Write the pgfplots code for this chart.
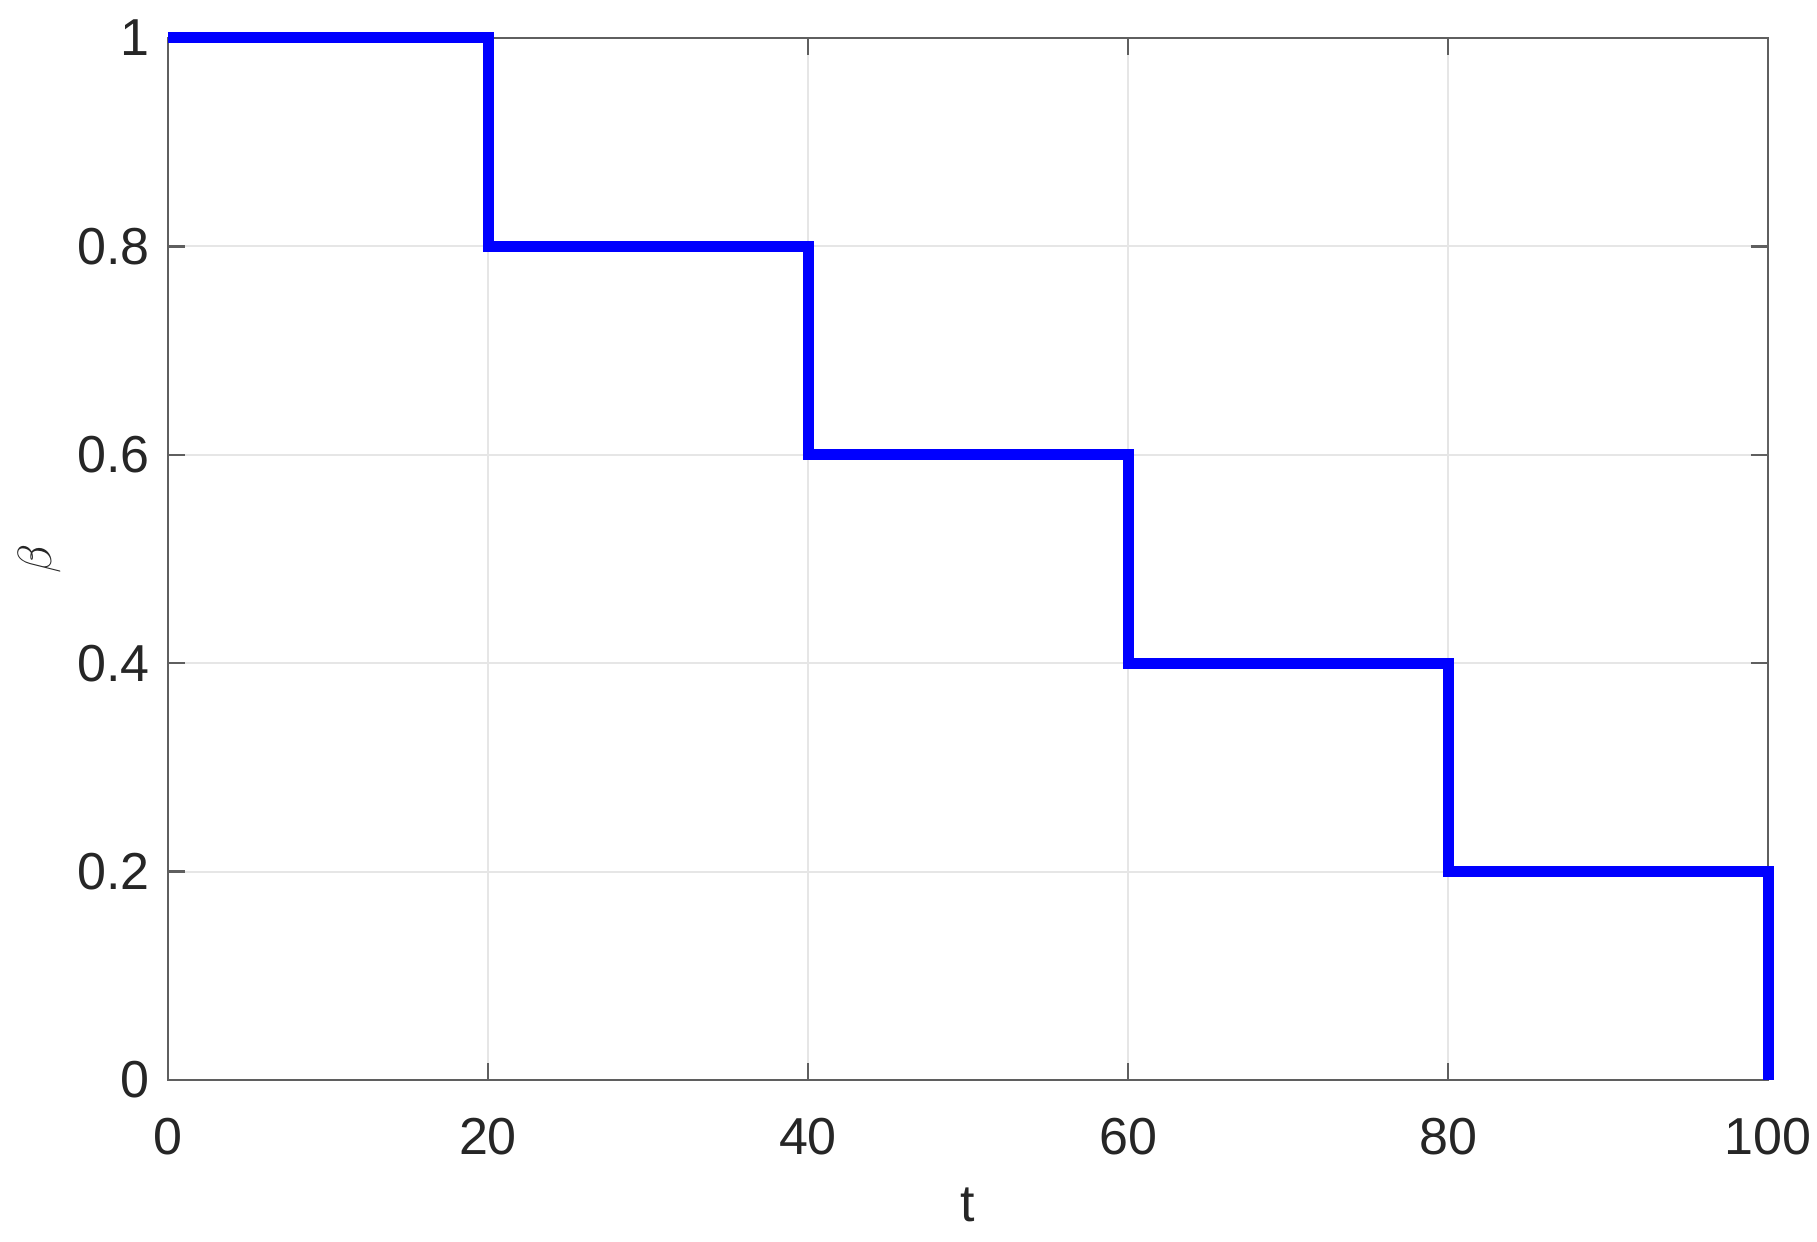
\documentclass[border=0pt]{standalone}
\usepackage{pgfplots}
\pgfplotsset{compat=1.18}
\usepackage{fontspec}
\setmainfont{Liberation Sans}
\definecolor{axgray}{RGB}{38,38,38}
\definecolor{linegray}{RGB}{95,95,95}
\definecolor{gridgray}{RGB}{230,230,230}
\begin{document}
\begin{tikzpicture}
\path[use as bounding box] (-42pt,-40.25pt) rectangle (412.25pt,270pt);
\begin{axis}[
  at={(0,0)}, anchor=south west,
  scale only axis,
  width=400pt, height=260.5pt,
  xmin=0, xmax=100, ymin=0, ymax=1,
  xtick={0,20,40,60,80,100},
  ytick={0,0.2,0.4,0.6,0.8,1},
  yticklabels={0,0.2,0.4,0.6,0.8,1},
  /pgf/number format/assume math mode=true,
  tick label style={font=\fontsize{13}{15}\selectfont, text=axgray},
  xticklabel style={yshift=-6pt},
  yticklabel style={xshift=-1pt},
  axis line style={linegray, line width=0.6pt},
  major tick length=4.2pt,
  tick style={linegray, line width=0.6pt},
  tick align=inside,
  grid=major,
  major grid style={gridgray, line width=0.5pt},
  xlabel={t},
  ylabel={$\beta$},
  every axis x label/.style={at={(axis description cs:0.5,0)}, anchor=center, yshift=-31.25pt, font=\fontsize{13}{15}\selectfont, text=axgray},
  every axis y label/.style={at={(axis description cs:0,0.5)}, anchor=center, xshift=-32pt, rotate=90, font=\fontsize{12}{14}\selectfont, text=axgray},
  clip=false,
]
\addplot[blue, line width=2.75pt, line join=miter, line cap=butt] coordinates {
(0,1) (20,1) (20,0.8) (40,0.8) (40,0.6) (60,0.6) (60,0.4) (80,0.4) (80,0.2) (100,0.2) (100,0)
};
\end{axis}
\end{tikzpicture}
\end{document}
